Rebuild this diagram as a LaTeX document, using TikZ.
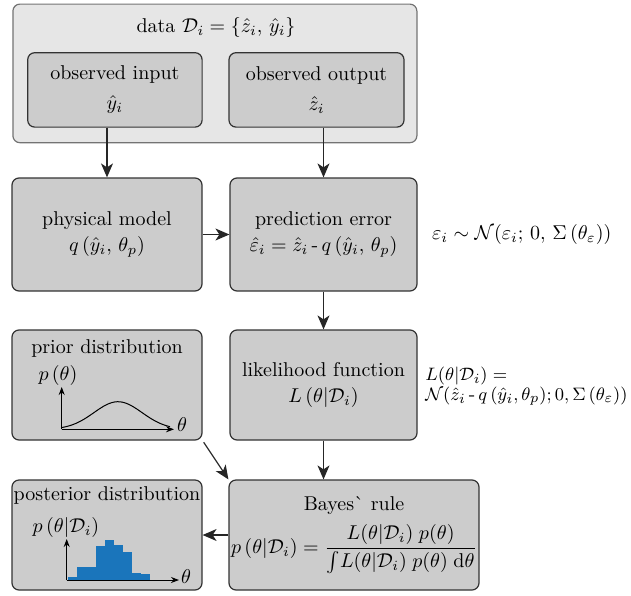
\documentclass[tikz,border=0pt]{standalone}
\usepackage{amsmath}
\usetikzlibrary{arrows.meta}
\definecolor{boxgray}{HTML}{CCCCCC}
\definecolor{datagray}{HTML}{E6E6E6}
\definecolor{linegray}{HTML}{333333}
\definecolor{histblue}{HTML}{1A75BB}
\tikzset{
  block/.style={draw=linegray,fill=boxgray,rounded corners=3.5pt,line width=0.6pt,align=center,inner sep=0pt},
  flow/.style={-{Stealth[length=7pt,width=6pt,inset=2pt]},line width=0.6pt,draw=black!85},
  axis/.style={-{Stealth[length=4pt,width=3pt]},line width=0.5pt}
}
\begin{document}
\begin{tikzpicture}[x=0.5pt,y=-0.5pt]
\useasboundingbox (0,0) rectangle (631,595);
% data block
\node[block,fill=datagray,draw=black!55,minimum width=202pt,minimum height=69.3pt] (data) at (214.9,73.4) {};
\node (datatitle) at (216,27) {data $\mathcal{D}_i=\{\hat{z}_i,\,\hat{y}_i\}$};
\node[block,minimum width=87.2pt,minimum height=37.2pt] (obsin) at (114.9,89.9) {observed input\\[3pt]$\hat{y}_i$};
\node[block,minimum width=87.5pt,minimum height=37.2pt] (obsout) at (316.5,89.9) {observed output\\[3pt]$\hat{z}_i$};
% model and error
\node[block,minimum width=95pt,minimum height=56.5pt] (phys) at (107,234.5) {physical model\\[1pt]$q\,(\hat{y}_i,\,\theta_p)$};
\node[block,minimum width=93.5pt,minimum height=56.5pt] (pred) at (323.5,234.5) {prediction error\\[1pt]$\hat{\varepsilon}_i=\hat{z}_i\,\text{-}\,q\,(\hat{y}_i,\,\theta_p)$};
\node[anchor=west] (epsdist) at (425,234) {$\varepsilon_i\sim\mathcal{N}(\varepsilon_i;\,0,\,\Sigma\,(\theta_\varepsilon))$};
% prior and likelihood
\node[block,minimum width=95pt,minimum height=55pt] (prior) at (107,385) {};
\node (priortitle) at (107,348) {prior distribution};
\node (priorlabel) at (58,375) {$p\,(\theta)$};
\draw[axis] (61.7,429.3) -- (61.7,387);
\draw[axis] (61.7,429.3) -- (174,429.3);
\node (priortheta) at (182,425) {$\theta$};
\draw[line width=0.5pt] plot[domain=61.7:170,smooth,samples=40] (\x,{429.3-27.6*exp(-((\x-118)^2)/1152)});
\node[block,minimum width=93.5pt,minimum height=55pt] (lik) at (323.5,385) {likelihood function\\[1pt]$L\,(\theta|\mathcal{D}_i)$};
\node[anchor=west,align=left,inner xsep=0pt,font=\fontsize{9.4}{11}\selectfont] (likdef) at (425,386) {$L(\theta|\mathcal{D}_i)=$\\[-1pt]$\mathcal{N}(\hat{z}_i\,\text{-}\,q\,(\hat{y}_i,\theta_p);0,\Sigma\,(\theta_\varepsilon))$};
% posterior and Bayes
\node[block,minimum width=95pt,minimum height=55pt] (post) at (107,535) {};
\node (posttitle) at (107,495) {posterior distribution};
\node (postlabel) at (66,527) {$p\,(\theta|\mathcal{D}_i)$};
\foreach \a/\b/\h in {68.3/77.3/576.7,77.3/96/566.7,96/105/546,105/114/540,114/122.7/545,122.7/131.7/552.3,131.7/141/572.7,141/150/574}
  \fill[histblue] (\a,580) rectangle (\b,\h);
\draw[axis] (66.7,580) -- (66.7,539);
\draw[axis] (66.7,580) -- (179,580);
\node (posttheta) at (186,577) {$\theta$};
\node[block,minimum width=125pt,minimum height=55pt] (bayes) at (354,535) {Bayes\textasciigrave{} rule\\[4pt]$\displaystyle p\,(\theta|\mathcal{D}_i)=\frac{L(\theta|\mathcal{D}_i)\;p(\theta)}{\int\! L(\theta|\mathcal{D}_i)\;p(\theta)\;\mathrm{d}\theta}$};
% connectors
\draw[flow] (phys.north |- obsin.south) -- (phys.north);
\draw[flow] (pred.north |- obsout.south) -- (pred.north);
\draw[flow] (phys) -- (pred);
\draw[flow] (pred) -- (lik);
\draw[flow] (lik.south) -- (lik.south |- bayes.north);
\draw[flow,shorten <=1pt] (prior.south east) -- (bayes.north west);
\draw[flow] (bayes.west) -- (post.east);
\end{tikzpicture}
\end{document}
